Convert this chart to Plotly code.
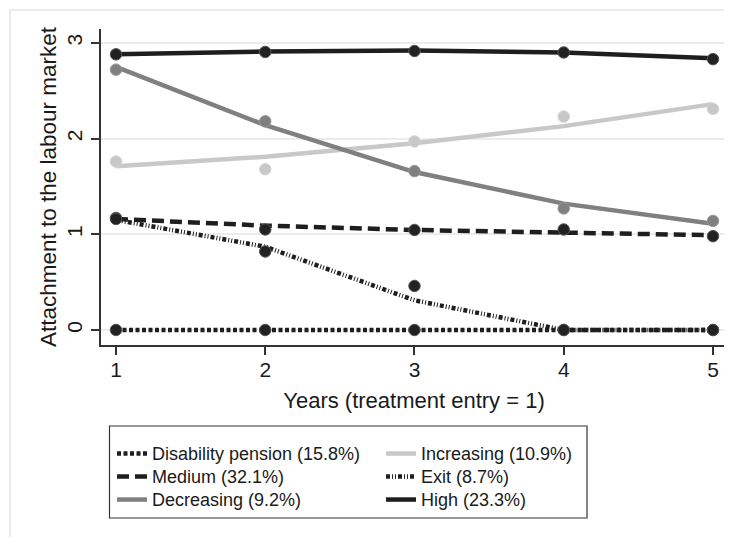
import plotly.graph_objects as go

years = [1, 2, 3, 4, 5]
x_ticks = [1, 2, 3, 4, 5]
y_ticks = [0, 1, 2, 3]

names = ["Disability pension (15.8%)", "Increasing (10.9%)", "Medium (32.1%)",
         "Exit (8.7%)", "Decreasing (9.2%)", "High (23.3%)"]

# observed group means (markers)
disability_obs = [0.0, 0.0, 0.0, 0.0, 0.0]
increasing_obs = [1.76, 1.68, 1.97, 2.23, 2.31]
medium_obs = [1.16, 1.05, 1.045, 1.05, 0.98]
exit_obs = [1.17, 0.82, 0.46, 0.0, 0.0]
decreasing_obs = [2.72, 2.18, 1.66, 1.27, 1.14]
high_obs = [2.88, 2.905, 2.915, 2.90, 2.83]

# fitted trajectories (lines)
disability_fit = [0.0, 0.0, 0.0, 0.0, 0.0]
increasing_fit = [1.71, 1.81, 1.95, 2.13, 2.36]
medium_fit = [1.16, 1.09, 1.045, 1.015, 0.99]
exit_fit = [1.15, 0.87, 0.31, 0.0, 0.0]
decreasing_fit = [2.75, 2.14, 1.65, 1.32, 1.11]
high_fit = [2.88, 2.91, 2.92, 2.90, 2.84]

obs = [disability_obs, increasing_obs, medium_obs, exit_obs, decreasing_obs, high_obs]
fits = [disability_fit, increasing_fit, medium_fit, exit_fit, decreasing_fit, high_fit]

line_colors = ["#1e1e1e", "#c8c8c8", "#1e1e1e", "#1e1e1e", "#808080", "#1e1e1e"]
marker_colors = ["#222222", "#c8c8c8", "#222222", "#222222", "#808080", "#222222"]
marker_lines = ["#555555", "#d4d4d4", "#555555", "#555555", "#999999", "#555555"]
dashes = ["4px,2.5px", "solid", "12px,6px", "4px,2px,1px,2px,1px,2px", "solid", "solid"]
widths = [4.5, 4.5, 4.5, 4.5, 4.5, 4.5]

draw_order = [1, 4, 3, 2, 0, 5]

fig = go.Figure()
for i in draw_order:
    fig.add_trace(go.Scatter(
        x=years, y=fits[i], mode="lines",
        name='<span style="font-size:18px">' + names[i] + "</span>",
        line=dict(color=line_colors[i], width=widths[i], dash=dashes[i]),
        legendrank=i + 1, showlegend=True))
    fig.add_trace(go.Scatter(
        x=years, y=obs[i], mode="markers", showlegend=False,
        marker=dict(size=11.5, color=marker_colors[i],
                    line=dict(color=marker_lines[i], width=1))))

font = "Liberation Sans, Arial, Helvetica, sans-serif"

# page body has an 8px margin, so the figure is sized to fit the window
W, H = 724, 529
L, R, T, B = 93, 5, 21, 192
pw, ph = W - L - R, H - T - B

def px_x(p):
    return (p - L) / pw

def px_y(p):
    return (H - B - p) / ph

fig.update_layout(
    width=W, height=H,
    margin=dict(l=L, r=R, t=T, b=B, autoexpand=False),
    paper_bgcolor="white", plot_bgcolor="white",
    font=dict(family=font, color="#1a1a1a"),
    showlegend=True,
    legend=dict(orientation="h", x=px_x(104), y=px_y(429), xanchor="left", yanchor="top",
                entrywidth=224, entrywidthmode="pixels", traceorder="normal",
                font=dict(size=15.4, family=font, color="#1a1a1a"),
                bgcolor="rgba(0,0,0,0)", borderwidth=0, tracegroupgap=0),
    xaxis=dict(range=[0.8995, 5.094], tickvals=x_ticks, ticktext=[str(v) for v in x_ticks],
               showgrid=False, zeroline=False, showline=True, linecolor="#333333", linewidth=1.5,
               ticks="outside", ticklen=8, tickwidth=2, tickcolor="#333333",
               ticklabelstandoff=-3,
               tickfont=dict(size=21, family=font, color="#1a1a1a"),
               title=dict(text="Years (treatment entry = 1)", font=dict(size=22, family=font, color="#1a1a1a"),
                          standoff=13)),
    yaxis=dict(range=[-0.157, 3.145], tickvals=y_ticks, ticktext=[str(v) for v in y_ticks],
               showgrid=True, gridcolor="#ebebeb", gridwidth=1.5, zeroline=False,
               showline=True, linecolor="#333333", linewidth=1.5,
               ticks="outside", ticklen=8, tickwidth=2, tickcolor="#333333", tickangle=-90,
               ticklabelstandoff=1,
               tickfont=dict(size=21, family=font, color="#1a1a1a"),
               title=dict(text="Attachment to the labour market", font=dict(size=22.5, family=font, color="#1a1a1a"),
                          standoff=0)),
    shapes=[
        dict(type="rect", xref="paper", yref="paper",
             x0=px_x(2), x1=px_x(740), y0=px_y(545), y1=px_y(2),
             line=dict(color="#ececec", width=2), fillcolor="rgba(0,0,0,0)", layer="below"),
        dict(type="rect", xref="paper", yref="paper",
             x0=px_x(101.5), x1=px_x(579), y0=px_y(510), y1=px_y(418),
             line=dict(color="#333333", width=1.2), fillcolor="rgba(0,0,0,0)"),
    ],
)

fig.write_html("out.html")
